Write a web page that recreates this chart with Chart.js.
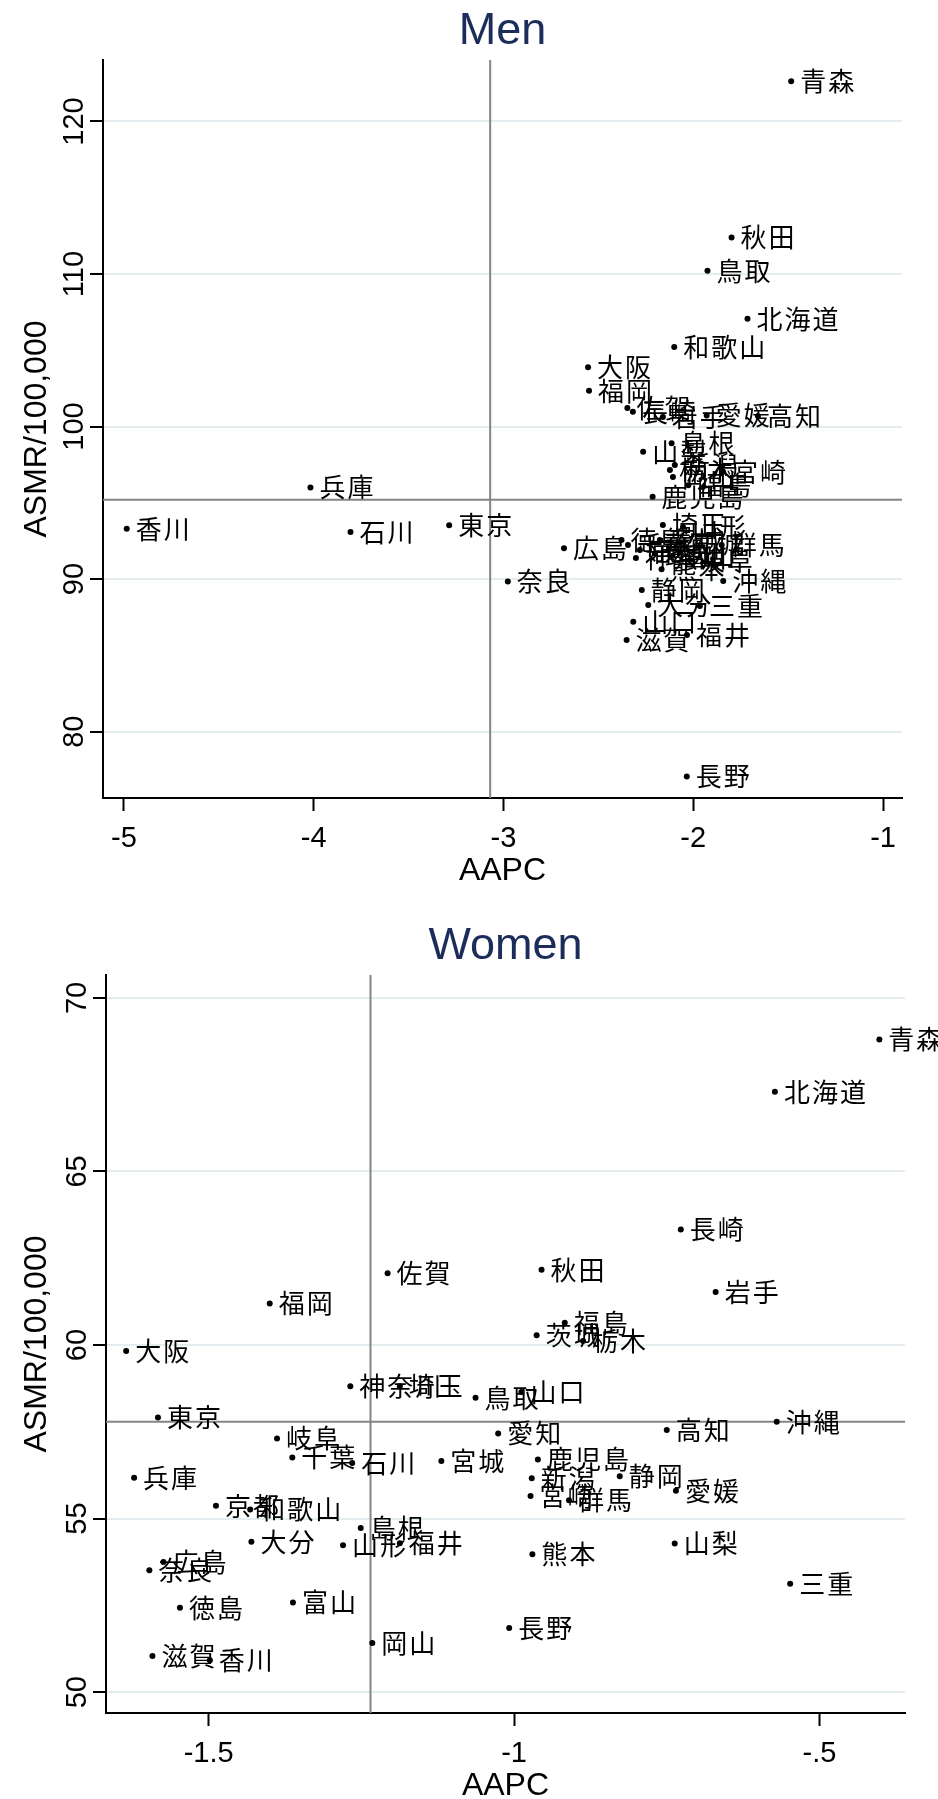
<!DOCTYPE html>
<html>
<head>
<meta charset="utf-8">
<script src="https://cdn.jsdelivr.net/npm/chart.js@4.4.0/dist/chart.umd.min.js"></script>
<style>
  body { margin: 0; background: #fff; }
  canvas { display: block; }
</style>
</head>
<body>
<canvas id="menChart" width="938" height="900"></canvas>
<canvas id="womenChart" width="938" height="899"></canvas>
<script>
// 都道府県 (same order in every array)
const prefNames = ['北海道','青森','岩手','宮城','秋田','山形','福島','茨城','栃木','群馬',
  '埼玉','千葉','東京','神奈川','新潟','富山','石川','福井','山梨','長野',
  '岐阜','静岡','愛知','三重','滋賀','京都','大阪','兵庫','奈良','和歌山',
  '鳥取','島根','岡山','広島','山口','徳島','香川','愛媛','高知','福岡',
  '佐賀','長崎','熊本','大分','宮崎','鹿児島','沖縄'];

// Men
const menAAPC = [-1.714,-1.484,-2.160,-2.070,-1.798,-2.054,-2.026,-2.176,-2.123,-1.850,
  -2.160,-2.344,-3.286,-2.302,-2.097,-2.112,-3.806,-2.033,-2.264,-2.034,
  -2.018,-2.271,-2.202,-1.965,-2.351,-2.281,-2.554,-4.017,-2.977,-2.100,
  -1.925,-2.114,-2.107,-2.681,-2.316,-2.378,-4.985,-1.929,-1.659,-2.549,
  -2.347,-2.318,-2.167,-2.237,-1.843,-2.214,-1.842];
const menASMR = [107.06,122.63,100.62,92.36,112.40,93.41,96.16,92.56,97.15,92.23,
  93.54,92.23,93.53,91.38,97.48,91.51,93.08,86.33,98.35,77.06,
  91.25,89.28,91.70,88.23,86.00,91.90,103.88,96.01,89.84,105.21,
  110.22,98.90,96.69,92.03,87.20,92.56,93.30,100.72,100.69,102.35,
  101.21,100.97,90.64,88.30,97.04,95.40,89.87];

// Women
const womenAAPC = [-0.573,-0.402,-0.670,-1.119,-0.955,-1.280,-0.917,-0.963,-0.887,-0.910,
  -1.187,-1.363,-1.583,-1.268,-0.971,-1.362,-1.265,-1.187,-0.737,-1.008,
  -1.388,-0.827,-1.026,-0.548,-1.592,-1.488,-1.635,-1.622,-1.597,-1.432,
  -1.063,-1.251,-1.232,-1.574,-0.988,-1.547,-1.498,-0.735,-0.750,-1.400,
  -1.207,-0.727,-0.970,-1.430,-0.973,-0.961,-0.570];
const womenASMR = [67.3,68.8,61.53,56.66,62.17,54.23,60.64,60.28,60.12,55.53,
  58.81,56.76,57.91,58.81,56.16,52.58,56.60,54.29,54.28,51.85,
  57.31,56.22,57.45,53.12,51.04,55.37,59.83,56.18,53.51,55.26,
  58.48,54.73,51.42,53.75,58.65,52.43,50.92,55.80,57.55,61.20,
  62.07,63.33,53.97,54.33,55.65,56.70,57.79];

// axes
const menXTicks = [-5, -4, -3, -2, -1];
const menYTicks = [80, 90, 100, 110, 120];
const womenXTicks = [-1.5, -1, -0.5];
const womenYTicks = [50, 55, 60, 65, 70];

// reference lines
const menRefX = -3.07, menRefY = 95.2;
const womenRefX = -1.235, womenRefY = 57.79;

const NAVY = '#1c2d5a';
const LATIN = '"Liberation Sans", Arial, sans-serif';
const CJK = '"Noto Sans CJK JP", "Noto Sans CJK SC", sans-serif';

function fmtTick(v) {
    return String(v).replace('0.', '.');
}

const extrasPlugin = {
    id: 'extras',
    beforeDatasetsDraw(chart, args, opts) {
        const { ctx, chartArea: a, scales: { x, y } } = chart;
        const px = x.getPixelForValue(opts.refX);
        const py = y.getPixelForValue(opts.refY);
        ctx.save();
        ctx.strokeStyle = '#858585';
        ctx.lineWidth = 2;
        ctx.beginPath();
        ctx.moveTo(px, a.top); ctx.lineTo(px, a.bottom);
        ctx.moveTo(a.left, py); ctx.lineTo(a.right, py);
        ctx.stroke();
        ctx.restore();
    },
    afterDatasetsDraw(chart) {
        const ctx = chart.ctx;
        const meta = chart.getDatasetMeta(0);
        ctx.save();
        ctx.font = '26px ' + CJK;
        if ('letterSpacing' in ctx) ctx.letterSpacing = '2px';
        ctx.fillStyle = '#000';
        ctx.textAlign = 'left';
        ctx.textBaseline = 'middle';
        meta.data.forEach((pt, i) => {
            ctx.fillText(prefNames[i], pt.x + 9, pt.y);
        });
        ctx.restore();
    },
    afterDraw(chart, args, opts) {
        const { ctx, chartArea: a, scales: { y } } = chart;
        const cx = (a.left + a.right) / 2;
        ctx.save();
        // titulo
        ctx.fillStyle = NAVY;
        ctx.font = '45px ' + LATIN;
        ctx.textAlign = 'center';
        ctx.textBaseline = 'alphabetic';
        ctx.fillText(opts.title, cx, a.top - 16);
        // eje x
        ctx.fillStyle = '#000';
        ctx.font = '32px ' + LATIN;
        ctx.fillText('AAPC', cx, a.bottom + 82);
        // eje y: etiquetas giradas
        ctx.font = '29px ' + LATIN;
        ctx.textBaseline = 'middle';
        y.ticks.forEach(t => {
            const py = y.getPixelForValue(t.value);
            ctx.save();
            ctx.translate(a.left - 28, py);
            ctx.rotate(-Math.PI / 2);
            ctx.fillText(String(t.value), 0, 0);
            ctx.restore();
        });
        ctx.font = '32px ' + LATIN;
        ctx.save();
        ctx.translate(37, (a.top + a.bottom) / 2);
        ctx.rotate(-Math.PI / 2);
        ctx.fillText('ASMR/100,000', 0, 0);
        ctx.restore();
        ctx.restore();
    }
};

function makeChart(id, title, xs, ys, xTicks, yTicks, xMin, xMax, yMin, yMax, refX, refY, box) {
    const points = xs.map((v, i) => ({ x: v, y: ys[i] }));
    return new Chart(document.getElementById(id), {
        type: 'scatter',
        data: {
            datasets: [{
                data: points,
                pointRadius: 3,
                pointHoverRadius: 3,
                pointBackgroundColor: '#000',
                pointBorderWidth: 0
            }]
        },
        options: {
            responsive: false,
            animation: false,
            devicePixelRatio: 1,
            events: [],
            layout: { padding: { top: box.top, right: box.right, left: 0, bottom: 0 } },
            plugins: {
                legend: { display: false },
                tooltip: { enabled: false },
                extras: { title, refX, refY }
            },
            scales: {
                x: {
                    type: 'linear',
                    min: xMin,
                    max: xMax,
                    afterBuildTicks: s => { s.ticks = xTicks.map(v => ({ value: v })); },
                    afterFit: s => { s.height = box.xHeight; },
                    grid: { drawOnChartArea: false, color: '#000', tickColor: '#000', tickLength: 13, tickWidth: 2 },
                    border: { color: '#000', width: 2 },
                    ticks: {
                        color: '#000',
                        font: { family: LATIN, size: 29 },
                        padding: 11,
                        maxRotation: 0,
                        callback: v => fmtTick(v)
                    }
                },
                y: {
                    type: 'linear',
                    min: yMin,
                    max: yMax,
                    afterBuildTicks: s => { s.ticks = yTicks.map(v => ({ value: v })); },
                    afterFit: s => { s.width = box.yWidth; },
                    grid: { color: '#e3ecef', lineWidth: 2, tickColor: '#000', tickLength: 13, tickWidth: 2 },
                    border: { color: '#000', width: 2 },
                    ticks: { display: false }
                }
            }
        },
        plugins: [extrasPlugin]
    });
}

makeChart('menChart', 'Men', menAAPC, menASMR, menXTicks, menYTicks,
    -5.11, -0.90, 75.65, 124.03, menRefX, menRefY,
    { top: 60, right: 36, yWidth: 103, xHeight: 102 });

makeChart('womenChart', 'Women', womenAAPC, womenASMR, womenXTicks, womenYTicks,
    -1.668, -0.360, 49.40, 70.66, womenRefX, womenRefY,
    { top: 75, right: 33, yWidth: 106, xHeight: 86 });
</script>
</body>
</html>
